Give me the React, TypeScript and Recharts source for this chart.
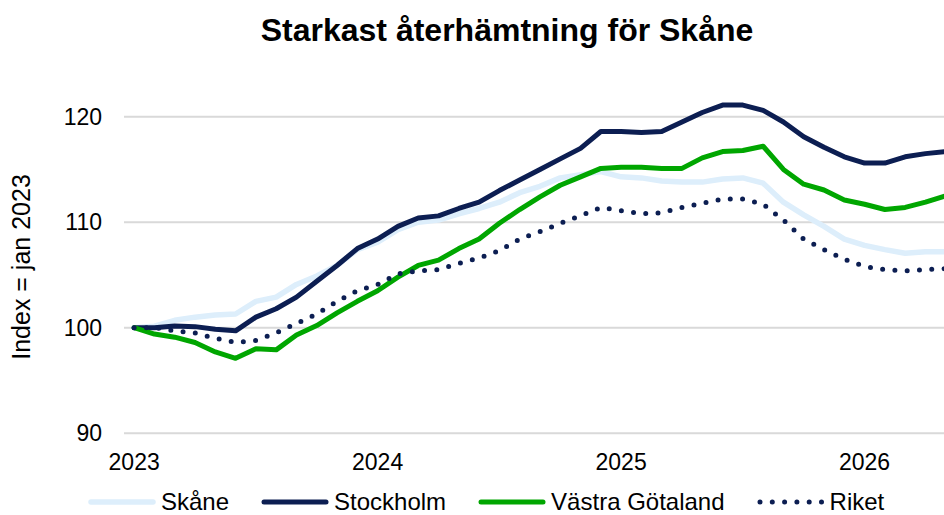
import React from "react";
import { LineChart, Line, XAxis, YAxis, CartesianGrid } from "recharts";

const months = [
  "2023-01","2023-02","2023-03","2023-04","2023-05","2023-06","2023-07","2023-08","2023-09","2023-10","2023-11","2023-12",
  "2024-01","2024-02","2024-03","2024-04","2024-05","2024-06","2024-07","2024-08","2024-09","2024-10","2024-11","2024-12",
  "2025-01","2025-02","2025-03","2025-04","2025-05","2025-06","2025-07","2025-08","2025-09","2025-10","2025-11","2025-12",
  "2026-01","2026-02","2026-03","2026-04","2026-05",
];

const skane = [
  100, 100.15, 100.7, 101.0, 101.2, 101.3, 102.5, 102.9, 104.1, 104.9,
  105.9, 107.4, 108.1, 109.3, 110.0, 110.2, 110.8, 111.3, 111.9, 112.8,
  113.4, 114.2, 114.5, 114.8, 114.3, 114.2, 113.9, 113.8, 113.8, 114.1,
  114.2, 113.7, 111.9, 110.7, 109.6, 108.4, 107.8, 107.4, 107.05, 107.2,
  107.2,
];
const stockholm = [
  100, 100.0, 100.15, 100.1, 99.85, 99.7, 101.0, 101.8, 102.9, 104.4,
  105.9, 107.5, 108.4, 109.6, 110.4, 110.6, 111.3, 111.9, 113.0, 114.0,
  115.0, 116.0, 117.0, 118.6, 118.6, 118.5, 118.6, 119.5, 120.4, 121.1,
  121.1, 120.6, 119.5, 118.1, 117.1, 116.2, 115.6, 115.6, 116.2, 116.5,
  116.7,
];
const vastraGotaland = [
  100, 99.4, 99.1, 98.6, 97.7, 97.1, 98.0, 97.9, 99.3, 100.2,
  101.4, 102.5, 103.5, 104.8, 105.9, 106.4, 107.5, 108.4, 109.9, 111.2,
  112.4, 113.5, 114.3, 115.1, 115.2, 115.2, 115.1, 115.1, 116.1, 116.7,
  116.8, 117.2, 115.0, 113.6, 113.05, 112.1, 111.7, 111.2, 111.4, 111.9,
  112.5,
];
const riket = [
  100, 100.0, 99.7, 99.5, 99.0, 98.6, 98.8, 99.5, 100.4, 101.3,
  102.5, 103.5, 104.1, 105.1, 105.4, 105.5, 106.1, 106.6, 107.3, 108.4,
  109.1, 109.9, 110.6, 111.4, 111.1, 110.8, 110.9, 111.4, 111.8, 112.2,
  112.2, 111.7, 110.2, 108.4, 107.4, 106.5, 105.8, 105.5, 105.4, 105.5,
  105.6,
];

const seriesNames = ["Skåne", "Stockholm", "Västra Götaland", "Riket"];
const seriesKeys = ["skane", "stockholm", "vg", "riket"];
const seriesValues = [skane, stockholm, vastraGotaland, riket];

const yTicks = [90, 100, 110, 120];
const xTickMonths = [0, 12, 24, 36];
const xTickLabels = ["2023", "2024", "2025", "2026"];

const title = "Starkast återhämtning för Skåne";
const yLabel = "Index = jan 2023";

const colors = ["#DDEEFB", "#0C1E52", "#00A600", "#0C1E52"];
const widths = [5.5, 5, 5, 5];
const dashes: (string | undefined)[] = [undefined, undefined, undefined, "0 12.3"];

const data = months.map((m, i) => {
  const row: Record<string, number | string> = { t: i, month: m };
  seriesKeys.forEach((k, j) => {
    row[k] = seriesValues[j][i];
  });
  return row;
});

const FONT = "'Liberation Sans', Arial, sans-serif";

export default function App() {
  return (
    <div
      style={{
        position: "absolute",
        left: 0,
        top: 0,
        width: 944,
        height: 515,
        overflow: "hidden",
        background: "#fff",
        fontFamily: FONT,
      }}
    >
      <div
        style={{
          position: "absolute",
          left: 507,
          top: 14,
          transform: "translateX(-50%)",
          whiteSpace: "nowrap",
          fontSize: 32,
          lineHeight: "32px",
          fontWeight: "bold",
          color: "#000",
        }}
      >
        {title}
      </div>
      <div style={{ position: "absolute", left: 0, top: 0 }}>
        <LineChart
          width={960}
          height={515}
          data={data}
          margin={{ top: 95.6, right: 4.1, left: 0, bottom: 41.8 }}
        >
          <CartesianGrid
            vertical={false}
            horizontalValues={yTicks}
            stroke="#D9D9D9"
            strokeWidth={2}
          />
          <XAxis
            dataKey="t"
            type="number"
            domain={[-0.5, 40.5]}
            ticks={xTickMonths}
            tickFormatter={(v: number) => xTickLabels[xTickMonths.indexOf(v)] ?? ""}
            axisLine={false}
            tickLine={false}
            tickSize={0}
            tickMargin={20}
            height={40}
            interval={0}
            tick={{ fill: "#000", fontSize: 23, fontFamily: FONT }}
          />
          <YAxis
            type="number"
            domain={[90, 122]}
            ticks={yTicks}
            allowDataOverflow
            axisLine={false}
            tickLine={false}
            tickSize={0}
            tickMargin={22}
            width={124}
            interval={0}
            tick={{ fill: "#000", fontSize: 23, fontFamily: FONT }}
            label={() => (
              <text
                x={30}
                y={267}
                transform="rotate(-90, 30, 267)"
                textAnchor="middle"
                fontSize={25}
                fontFamily={FONT}
                fill="#000"
              >
                {yLabel}
              </text>
            )}
          />
          {seriesKeys.map((k, j) => (
            <Line
              key={k}
              dataKey={k}
              name={seriesNames[j]}
              type="linear"
              stroke={colors[j]}
              strokeWidth={widths[j]}
              strokeDasharray={dashes[j]}
              strokeLinecap="round"
              strokeLinejoin="round"
              dot={false}
              activeDot={false}
              isAnimationActive={false}
            />
          ))}
        </LineChart>
      </div>
      <div
        style={{
          position: "absolute",
          left: 88,
          top: 489,
          display: "flex",
          alignItems: "center",
          whiteSpace: "nowrap",
          fontSize: 24,
          lineHeight: "26px",
          height: 26,
          color: "#000",
        }}
      >
        {seriesNames.map((n, j) => (
          <div
            key={n}
            style={{ display: "flex", alignItems: "center", marginRight: j < seriesNames.length - 1 ? 32 : 0 }}
          >
            <svg width={68} height={8} style={{ display: "block", marginRight: 5 }}>
              <line
                x1={3}
                y1={4}
                x2={65}
                y2={4}
                stroke={colors[j]}
                strokeWidth={widths[j]}
                strokeDasharray={dashes[j]}
                strokeLinecap="round"
              />
            </svg>
            <span>{n}</span>
          </div>
        ))}
      </div>
    </div>
  );
}
